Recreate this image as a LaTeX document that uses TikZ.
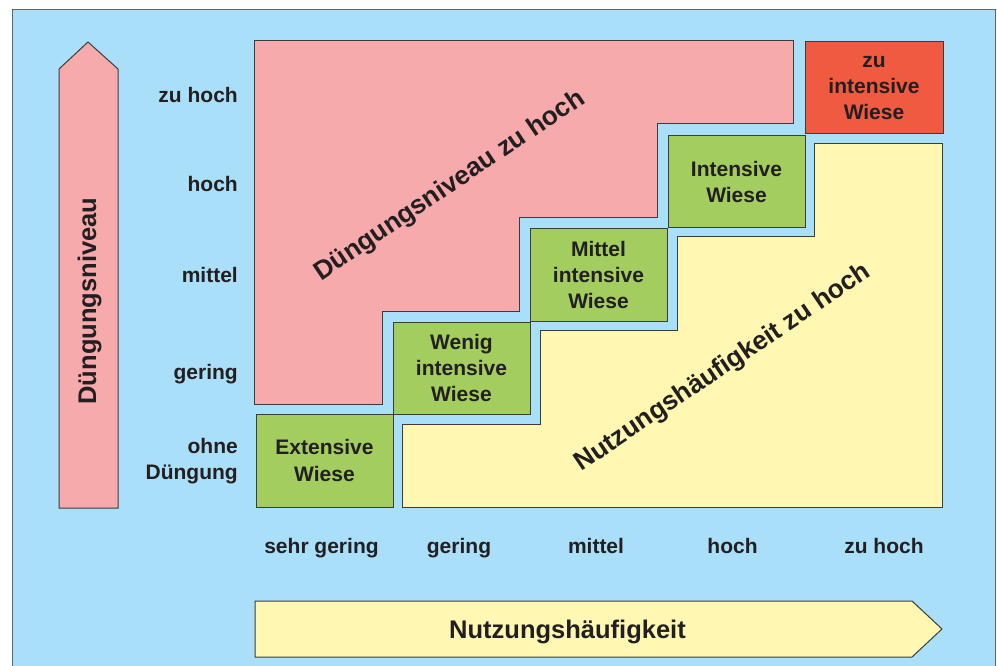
\documentclass[tikz,border=0pt]{standalone}
\usepackage{fontspec}
\setmainfont{Liberation Sans}
\definecolor{bgblue}{RGB}{170,223,249}
\definecolor{pinkc}{RGB}{246,170,172}
\definecolor{greenc}{RGB}{163,205,95}
\definecolor{redc}{RGB}{240,90,64}
\definecolor{yellowc}{RGB}{255,247,178}
\definecolor{textc}{RGB}{35,31,32}
\definecolor{linec}{RGB}{60,60,60}
\tikzset{
  area/.style={draw=linec, line width=1pt, line join=miter},
  cell/.style={area, minimum width=137pt, minimum height=92pt, inner sep=0pt,
    align=center, text=textc, font=\bfseries\fontsize{21}{26}\selectfont},
  lbl/.style={text=textc, font=\bfseries\fontsize{21}{26}\selectfont, inner sep=0pt},
  biglbl/.style={text=textc, font=\bfseries\fontsize{25.5}{30}\selectfont, inner sep=0pt},
  diaglbl/.style={text=textc, font=\bfseries\fontsize{26.3}{30}\selectfont, inner sep=0pt},
}
\begin{document}
\begin{tikzpicture}[x=1pt,y=-1pt]
\useasboundingbox (0,0) rectangle (997,666);
\clip (0,0) rectangle (997,666);
% background frame
\draw[fill=bgblue, draw=linec!80, line width=1pt] (12,10) rectangle (995,690);
% pink area
\path[area, fill=pinkc] (254,41) -- (793,41) -- (793,124) -- (657,124) -- (657,218)
  -- (519,218) -- (519,311) -- (382,311) -- (382,404) -- (254,404) -- cycle;
% yellow area
\path[area, fill=yellowc] (402,507) -- (402,424) -- (540,424) -- (540,330) -- (677,330)
  -- (677,237) -- (814,237) -- (814,144) -- (942,144) -- (942,507) -- cycle;
% vertical arrow
\path[area, fill=pinkc] (59,508) -- (59,69) -- (88,42) -- (118,69) -- (118,508) -- cycle;
% horizontal arrow
\path[area, fill=yellowc] (255,601) -- (912,601) -- (942,629) -- (912,657) -- (255,657) -- cycle;
% cells
\node[cell, fill=greenc, minimum height=93pt] (ext) at (324.5,460.5) {Extensive\\[1pt]Wiese};
\node[cell, fill=greenc] (wen) at (461.5,368) {Wenig\\intensive\\Wiese};
\node[cell, fill=greenc] (mit) at (598.5,275) {Mittel\\intensive\\Wiese};
\node[cell, fill=greenc] (int) at (736.5,182) {Intensive\\Wiese};
\node[cell, fill=redc, minimum width=138pt] (zui) at (874,88) {zu\\intensive\\Wiese};
% left labels
\node[lbl, anchor=base east] (y5) at (238,103) {zu hoch};
\node[lbl, anchor=base east] (y4) at (238,192) {hoch};
\node[lbl, anchor=base east] (y3) at (238,283) {mittel};
\node[lbl, anchor=base east] (y2) at (238,379) {gering};
\node[lbl, anchor=base east] (y1a) at (238,453) {ohne};
\node[lbl, anchor=base east] (y1b) at (238,479) {Düngung};
% bottom labels
\node[lbl, anchor=base] (x1) at (321.5,553) {sehr gering};
\node[lbl, anchor=base] (x2) at (459,553) {gering};
\node[lbl, anchor=base] (x3) at (596,553) {mittel};
\node[lbl, anchor=base] (x4) at (732.5,553) {hoch};
\node[lbl, anchor=base] (x5) at (884,553) {zu hoch};
% axis titles
\node[biglbl, anchor=base] (xt) at (567.5,638) {Nutzungshäufigkeit};
\node[biglbl, anchor=base, rotate=90] (yt) at (96,301) {Düngungsniveau};
% diagonal texts
\node[diaglbl, rotate=34] (dz) at (450,186) {Düngungsniveau zu hoch};
\node[diaglbl, rotate=34] (nz) at (723,368) {Nutzungshäufigkeit zu hoch};
\end{tikzpicture}
\end{document}
